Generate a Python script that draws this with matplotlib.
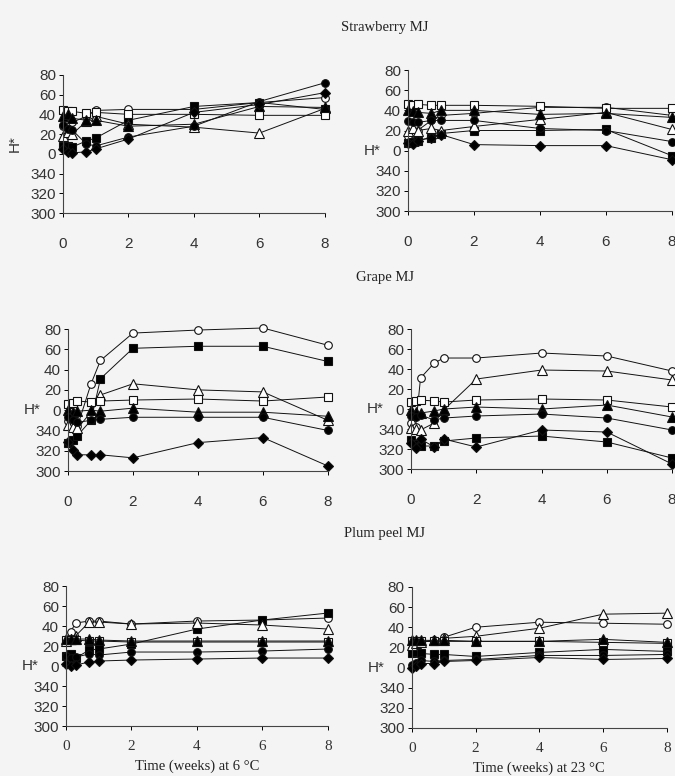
#!/usr/bin/env python3
"""
Hue angle (H*) of MJ samples over storage time at 6 and 23 C
"""

import numpy as np
import matplotlib
matplotlib.use('Agg')
import matplotlib.pyplot as plt

plt.rcParams['font.family'] = 'Liberation Sans'
plt.rcParams['font.size'] = 10

# sampling times (weeks)
weeks = [0, 0.14, 0.29, 0.71, 1, 2, 4, 6, 8]

series_order = ['open_circle', 'filled_square', 'open_triangle', 'open_square',
                'filled_triangle', 'filled_circle', 'filled_diamond']

# H* values in degrees (values above 180 wrap round to 0)
straw_6 = {
    'open_circle':     [28, 25, 32, 38, 44, 45, 45, 52, 57],
    'filled_square':   [8, 8, 7, 13, 16, 34, 48, 52, 45],
    'open_triangle':   [18, 22, 20, 33, 38, 30, 27, 21, 46],
    'open_square':     [44, 43, 43, 41, 42, 40, 40, 39, 39],
    'filled_triangle': [38, 40, 36, 34, 34, 28, 30, 48, 47],
    'filled_circle':   [29, 25, 24, 10, 8, 17, 28, 53, 72],
    'filled_diamond':  [5, 2, 1, 2, 5, 15, 42, 50, 62],
}
straw_23 = {
    'open_circle':     [15, 18, 20, 30, 35, 37, 43, 43, 35],
    'filled_square':   [8, 9, 10, 13, 17, 20, 20, 21, 355],
    'open_triangle':   [20, 22, 20, 22, 20, 24, 31, 38, 21],
    'open_square':     [46, 45, 46, 45, 45, 45, 44, 42, 42],
    'filled_triangle': [40, 39, 38, 37, 40, 40, 36, 37, 33],
    'filled_circle':   [29, 28, 28, 30, 30, 30, 22, 20, 9],
    'filled_diamond':  [8, 7, 10, 13, 16, 6, 5, 5, 351],
}
grape_6 = {
    'open_circle':     [349, 345, 344, 26, 49, 76, 79, 81, 64],
    'filled_square':   [328, 331, 335, 350, 31, 61, 63, 63, 48],
    'open_triangle':   [345, 343, 342, 358, 15, 26, 20, 18, 350],
    'open_square':     [6, 7, 9, 8, 9, 10, 11, 9, 13],
    'filled_triangle': [0, 358, 359, 0, 359, 2, 358, 358, 354],
    'filled_circle':   [353, 350, 348, 350, 351, 353, 353, 353, 340],
    'filled_diamond':  [329, 321, 316, 316, 316, 313, 328, 333, 305],
}
grape_23 = {
    'open_circle':     [346, 342, 31, 46, 51, 51, 56, 53, 38],
    'filled_square':   [329, 325, 323, 323, 328, 331, 333, 327, 311],
    'open_triangle':   [341, 340, 339, 346, 359, 30, 39, 38, 29],
    'open_square':     [7, 8, 9, 8, 7, 9, 10, 9, 2],
    'filled_triangle': [359, 357, 356, 358, 0, 2, 0, 4, 352],
    'filled_circle':   [353, 352, 354, 349, 351, 353, 355, 351, 339],
    'filled_diamond':  [326, 321, 330, 322, 330, 322, 339, 337, 305],
}
plum_6 = {
    'open_circle':     [26, 34, 43, 45, 45, 42, 45, 46, 48],
    'filled_square':   [10, 12, 8, 16, 17, 22, 37, 46, 53],
    'open_triangle':   [25, 27, 30, 44, 44, 42, 43, 41, 37],
    'open_square':     [26, 26, 26, 25, 25, 24, 24, 24, 24],
    'filled_triangle': [27, 27, 27, 27, 26, 25, 25, 25, 25],
    'filled_circle':   [10, 8, 9, 12, 11, 14, 14, 15, 17],
    'filled_diamond':  [2, 0, 1, 4, 5, 6, 7, 8, 8],
}
plum_23 = {
    'open_circle':     [18, 22, 25, 27, 30, 40, 45, 44, 43],
    'filled_square':   [14, 15, 14, 13, 13, 11, 15, 18, 16],
    'open_triangle':   [22, 24, 25, 27, 29, 31, 39, 53, 54],
    'open_square':     [26, 26, 26, 26, 26, 26, 26, 25, 24],
    'filled_triangle': [27, 27, 27, 27, 27, 26, 26, 28, 25],
    'filled_circle':   [3, 5, 7, 6, 7, 8, 12, 12, 13],
    'filled_diamond':  [0, 2, 4, 4, 6, 7, 10, 8, 9],
}

row_titles = ['Strawberry MJ', 'Grape MJ', 'Plum peel MJ']
xlabels = ['Time (weeks) at 6 \u00b0C', 'Time (weeks) at 23 \u00b0C']
ytick_labels = ['300', '320', '340', '0', '20', '40', '60', '80']
xticks = [0, 2, 4, 6, 8]

marker_style = {
    'open_circle':     ('o', 'white', 5.5),
    'filled_square':   ('s', 'black', 5.5),
    'open_triangle':   ('^', 'white', 6.5),
    'open_square':     ('s', 'white', 5.5),
    'filled_triangle': ('^', 'black', 6.5),
    'filled_circle':   ('o', 'black', 5.5),
    'filled_diamond':  ('D', 'black', 5),
}


def wrap(h):
    h = np.asarray(h, dtype=float)
    return np.where(h > 180, h - 360, h)


bg = '#f4f4f4'
fig = plt.figure(figsize=(6.75, 7.76), dpi=100, facecolor=bg)

positions = [
    [[0.0933, 0.7255, 0.388, 0.178], [0.6044, 0.728, 0.391, 0.1817]],
    [[0.1007, 0.393, 0.385, 0.183], [0.609, 0.3956, 0.3867, 0.1804]],
    [[0.0978, 0.0644, 0.388, 0.1804], [0.610, 0.0619, 0.378, 0.1817]],
]
panels = [[straw_6, straw_23], [grape_6, grape_23], [plum_6, plum_23]]
title_y = [0.964, 0.643, 0.313]

for r in range(3):
    fig.text(0.57, title_y[r], row_titles[r], ha='center', va='center',
             family='Liberation Serif', fontsize=10.5, color='#222222')
    for c in range(2):
        ax = fig.add_axes(positions[r][c])
        ax.set_facecolor('none')
        data = panels[r][c]
        for key in series_order:
            m, fc, ms = marker_style[key]
            ax.plot(weeks, wrap(data[key]), color='#111111', lw=0.7,
                    marker=m, markerfacecolor=fc, markeredgecolor='#111111',
                    markeredgewidth=0.8, markersize=ms, clip_on=False)
        ax.set_xlim(0, 8)
        ax.set_ylim(-60, 80)
        ax.set_yticks(np.arange(-60, 81, 20))
        ax.set_yticklabels(ytick_labels, fontsize=11, color='#333333')
        ax.set_xticks(xticks)
        xfam = 'Liberation Serif' if r == 2 else 'Liberation Sans'
        ax.set_xticklabels([str(t) for t in xticks], fontsize=11,
                           family=xfam, color='#333333')
        ax.tick_params(axis='y', length=3, width=0.7, pad=2)
        ax.tick_params(axis='x', length=3, width=0.7,
                       pad=7 if r == 2 else 14)
        for s in ['top', 'right']:
            ax.spines[s].set_visible(False)
        for s in ['left', 'bottom']:
            ax.spines[s].set_linewidth(0.8)
            ax.spines[s].set_color('#444444')
        if r == 0 and c == 0:
            ax.set_ylabel('H*', fontsize=11, color='#333333', labelpad=6)
        else:
            ax.text(-0.105, 3 / 7, 'H*', transform=ax.transAxes, fontsize=11,
                    color='#333333', ha='right', va='center')
        if r == 2:
            ax.set_xlabel(xlabels[c], family='Liberation Serif', fontsize=10.5,
                          color='#222222', labelpad=5)

fig.savefig('out.png', dpi=100, facecolor=bg)
